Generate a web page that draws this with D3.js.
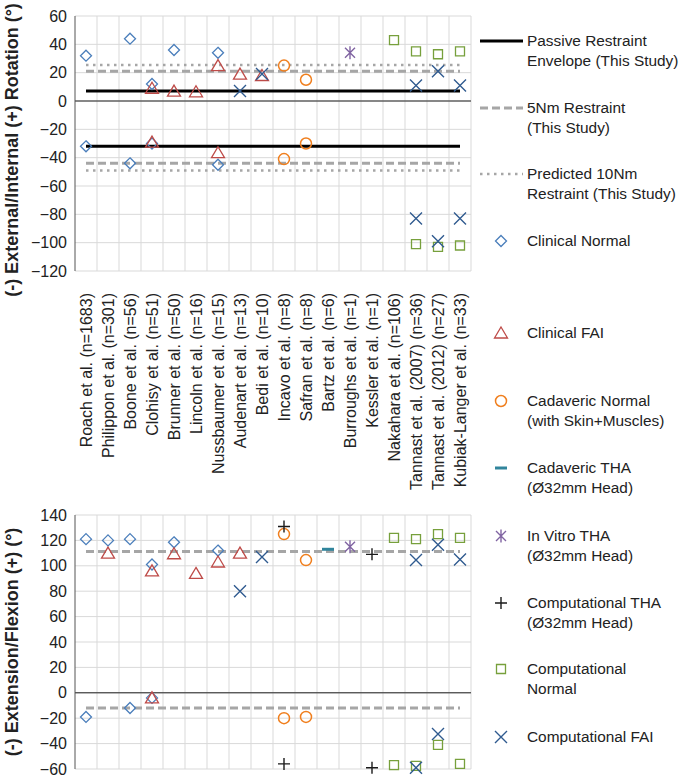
<!DOCTYPE html>
<html>
<head>
<meta charset="utf-8">
<script src="https://cdn.jsdelivr.net/npm/d3@7"></script>
<style>
  body { margin: 0; background: #fff; }
  text { font-family: "Liberation Sans", Arial, sans-serif; fill: #222; }
</style>
</head>
<body>
<div id="chart"></div>
<script>
// categories
var studies = ["Roach et al. (n=1683)", "Philippon et al. (n=301)", "Boone et al. (n=56)",
  "Clohisy et al. (n=51)", "Brunner et al. (n=50)", "Lincoln et al. (n=16)",
  "Nussbaumer et al. (n=15)", "Audenart et al. (n=13)", "Bedi et al. (n=10)",
  "Incavo et al. (n=8)", "Safran et al. (n=8)", "Bartz et al. (n=6)",
  "Burroughs et al. (n=1)", "Kessler et al. (n=1)", "Nakahara et al. (n=106)",
  "Tannast et al. (2007) (n=36)", "Tannast et al. (2012) (n=27)", "Kubiak-Langer et al. (n=33)"];

var rotTicks = [60, 40, 20, 0, -20, -40, -60, -80, -100, -120];
var flexTicks = [140, 120, 100, 80, 60, 40, 20, 0, -20, -40, -60];

// reference lines [upper, lower]
var rotPassive = [7, -32];
var rot5Nm = [21, -44];
var rot10Nm = [25.5, -49];
var flex5Nm = [111.3, -12];

// rotation points: [study index, value]
var rotClinicalNormal = [[0, 32], [0, -32], [2, 44], [2, -44], [3, 12], [3, -30], [4, 36], [6, 34], [6, -45]];
var rotClinicalFAI = [[3, 9], [3, -29], [4, 7], [5, 6.5], [6, 25], [6, -36.5], [7, 19], [8, 18]];
var rotCadavericNormal = [[9, 25], [9, -41], [10, 15], [10, -30]];
var rotCadavericTHA = [];
var rotInVitroTHA = [[12, 34]];
var rotCompTHA = [];
var rotCompNormal = [[14, 43], [15, 35], [15, -101], [16, 33], [16, -103], [17, 35], [17, -102]];
var rotCompFAI = [[7, 7], [8, 19], [15, 11], [15, -83], [16, 21], [16, -99], [17, 11], [17, -83]];

// flexion points: [study index, value]
var flexClinicalNormal = [[0, 121], [0, -19], [1, 120], [2, 121], [2, -12], [3, 101], [3, -4], [4, 118.5], [6, 112]];
var flexClinicalFAI = [[1, 110], [3, 96], [3, -4], [4, 109.5], [5, 94], [6, 103], [7, 110]];
var flexCadavericNormal = [[9, 125], [9, -20], [10, 104.5], [10, -19]];
var flexCadavericTHA = [[11, 113]];
var flexInVitroTHA = [[12, 115]];
var flexCompTHA = [[9, 131], [9, -56], [13, 109], [13, -59]];
var flexCompNormal = [[14, 122], [14, -57], [15, 121], [15, -57.5], [16, 125], [16, -41], [17, 122], [17, -56]];
var flexCompFAI = [[7, 80], [8, 107], [15, 104.5], [15, -59], [16, 116.5], [16, -32.5], [17, 105]];

var W = 683, H = 779;
var svg = d3.select("#chart").append("svg")
  .attr("width", W).attr("height", H);

var x = d3.scaleBand().domain(studies).range([75, 471]).padding(0);
function cx(i) { return x(studies[i]) + x.bandwidth() / 2; }

var yRot = d3.scaleLinear().domain([-120, 60]).range([271, 16]);
var yFlex = d3.scaleLinear().domain([-60, 140]).range([769, 515]);

// marker shapes
var shapes = {
  diamond: { d: "M0,-5.5L5.5,0L0,5.5L-5.5,0Z", color: "#4a7ebb", fill: "none", w: 1.3 },
  triangle: { d: "M0,-6L6.5,5L-6.5,5Z", color: "#be4b48", fill: "none", w: 1.3 },
  circle: { d: "M5.5,0A5.5,5.5 0 1,1 -5.5,0A5.5,5.5 0 1,1 5.5,0Z", color: "#f07f1e", fill: "none", w: 1.5 },
  dash: { d: "M-6,0L6,0", color: "#31859c", fill: "none", w: 3 },
  asterisk: { d: "M-5,-5L5,5M-5,5L5,-5M0,-6.5L0,6.5", color: "#8064a2", fill: "none", w: 1.4 },
  plus: { d: "M-6,0L6,0M0,-6L0,6", color: "#1a1a1a", fill: "none", w: 1.4 },
  square: { d: "M-4.5,-4.5L4.5,-4.5L4.5,4.5L-4.5,4.5Z", color: "#77a03c", fill: "none", w: 1.3 },
  cross: { d: "M-6,-6L6,6M-6,6L6,-6", color: "#2f5a8f", fill: "none", w: 1.4 }
};

var seriesOrder = ["diamond", "triangle", "circle", "dash", "asterisk", "plus", "square", "cross"];
var rotSeries = [rotClinicalNormal, rotClinicalFAI, rotCadavericNormal, rotCadavericTHA,
  rotInVitroTHA, rotCompTHA, rotCompNormal, rotCompFAI];
var flexSeries = [flexClinicalNormal, flexClinicalFAI, flexCadavericNormal, flexCadavericTHA,
  flexInVitroTHA, flexCompTHA, flexCompNormal, flexCompFAI];

var lineStyles = {
  passive: { stroke: "#000", w: 3, dash: null },
  nm5: { stroke: "#a6a6a6", w: 3, dash: "8,4" },
  nm10: { stroke: "#a6a6a6", w: 2.5, dash: "2.5,4.5" }
};

function drawPanel(y, ticks, refs, series) {
  var g = svg.append("g");
  // grid
  g.selectAll(".hgrid").data(ticks).enter().append("line")
    .attr("x1", 75).attr("x2", 471)
    .attr("y1", function(d) { return y(d); }).attr("y2", function(d) { return y(d); })
    .attr("stroke", "#d9d9d9").attr("stroke-width", 1);
  g.selectAll(".vgrid").data(studies).enter().append("line")
    .attr("x1", function(d) { return x(d) + x.bandwidth(); })
    .attr("x2", function(d) { return x(d) + x.bandwidth(); })
    .attr("y1", y.range()[0]).attr("y2", y.range()[1])
    .attr("stroke", "#d9d9d9").attr("stroke-width", 1);
  // zero line + left axis line
  g.append("line").attr("x1", 75).attr("x2", 471).attr("y1", y(0)).attr("y2", y(0))
    .attr("stroke", "#222").attr("stroke-width", 1);
  g.append("line").attr("x1", 75).attr("x2", 75).attr("y1", y.range()[0]).attr("y2", y.range()[1])
    .attr("stroke", "#555").attr("stroke-width", 1);

  var axis = g.append("g").attr("transform", "translate(75,0)")
    .call(d3.axisLeft(y).tickValues(ticks).tickSize(0).tickPadding(8));
  axis.select(".domain").remove();
  axis.selectAll("text").style("font-size", "16px").attr("fill", "#222")
    .style("font-family", "'Liberation Sans', Arial, sans-serif");

  // reference lines
  refs.forEach(function(r) {
    var st = lineStyles[r.style];
    r.vals.forEach(function(v) {
      g.append("line")
        .attr("x1", cx(0)).attr("x2", cx(studies.length - 1))
        .attr("y1", y(v)).attr("y2", y(v))
        .attr("stroke", st.stroke).attr("stroke-width", st.w)
        .attr("stroke-dasharray", st.dash);
    });
  });

  // markers
  series.forEach(function(pts, si) {
    var sh = shapes[seriesOrder[si]];
    g.selectAll(".m" + si).data(pts).enter().append("path")
      .attr("d", sh.d)
      .attr("transform", function(d) { return "translate(" + cx(d[0]) + "," + y(d[1]) + ")"; })
      .attr("fill", sh.fill).attr("stroke", sh.color).attr("stroke-width", sh.w);
  });
  return g;
}

drawPanel(yRot, rotTicks,
  [{ style: "nm10", vals: rot10Nm }, { style: "nm5", vals: rot5Nm }, { style: "passive", vals: rotPassive }],
  rotSeries);
drawPanel(yFlex, flexTicks, [{ style: "nm5", vals: flex5Nm }], flexSeries);

// category labels below the top panel
var xAxis = svg.append("g").attr("transform", "translate(0,271)")
  .call(d3.axisBottom(x).tickSize(0));
xAxis.select(".domain").remove();
xAxis.selectAll("text")
  .attr("transform", "rotate(-90)")
  .attr("text-anchor", "end")
  .attr("x", -22).attr("y", 0).attr("dy", "0.35em")
  .style("font-size", "16px").attr("fill", "#222")
  .style("font-family", "'Liberation Sans', Arial, sans-serif");

// axis titles
svg.append("text")
  .attr("transform", "translate(18,150) rotate(-90)")
  .attr("text-anchor", "middle")
  .style("font-size", "18px").style("font-weight", "bold")
  .text("(-) External/Internal (+) Rotation (°)");
svg.append("text")
  .attr("transform", "translate(18,642) rotate(-90)")
  .attr("text-anchor", "middle")
  .style("font-size", "18px").style("font-weight", "bold")
  .text("(-) Extension/Flexion (+) (°)");

// legend
var legendItems = [
  { kind: "line", style: "passive", lines: ["Passive Restraint", "Envelope (This Study)"] },
  { kind: "line", style: "nm5", lines: ["5Nm Restraint", "(This Study)"] },
  { kind: "line", style: "nm10", lines: ["Predicted 10Nm", "Restraint (This Study)"] },
  { kind: "shape", shape: "diamond", lines: ["Clinical Normal"] },
  { kind: "shape", shape: "triangle", lines: ["Clinical FAI"] },
  { kind: "shape", shape: "circle", lines: ["Cadaveric Normal", "(with Skin+Muscles)"] },
  { kind: "shape", shape: "dash", lines: ["Cadaveric THA", "(Ø32mm Head)"] },
  { kind: "shape", shape: "asterisk", lines: ["In Vitro THA", "(Ø32mm Head)"] },
  { kind: "shape", shape: "plus", lines: ["Computational THA", "(Ø32mm Head)"] },
  { kind: "shape", shape: "square", lines: ["Computational", "Normal"] },
  { kind: "shape", shape: "cross", lines: ["Computational FAI"] }
];
var legendY = [41, 108, 174, 241, 333, 401, 468, 536, 603, 669, 737];

var leg = svg.append("g");
legendItems.forEach(function(it, i) {
  var ly = legendY[i];
  if (it.kind === "line") {
    var st = lineStyles[it.style];
    leg.append("line").attr("x1", 480).attr("x2", 523).attr("y1", ly).attr("y2", ly)
      .attr("stroke", st.stroke).attr("stroke-width", st.w).attr("stroke-dasharray", st.dash);
  } else {
    var sh = shapes[it.shape];
    leg.append("path").attr("d", sh.d)
      .attr("transform", "translate(501," + ly + ")")
      .attr("fill", sh.fill).attr("stroke", sh.color).attr("stroke-width", sh.w);
  }
  it.lines.forEach(function(t, j) {
    leg.append("text").attr("x", 527).attr("y", ly + j * 20).attr("dy", "0.35em")
      .style("font-size", "15.4px").text(t);
  });
});
</script>
</body>
</html>
